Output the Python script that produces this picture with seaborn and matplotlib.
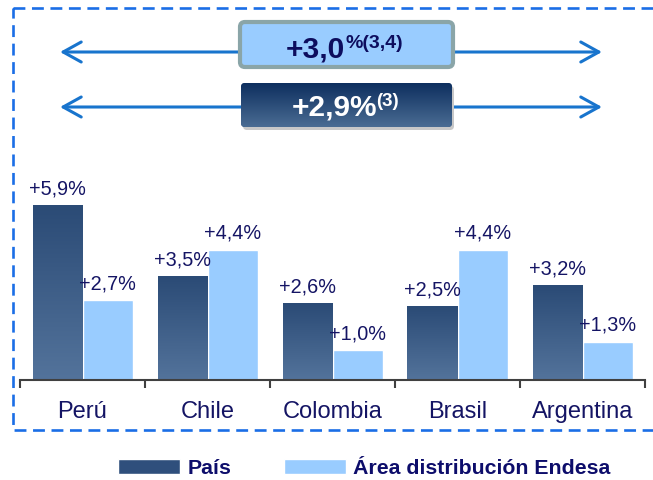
import numpy as np
import pandas as pd
import matplotlib
matplotlib.use("Agg")
import matplotlib.pyplot as plt
import seaborn as sns
from matplotlib.patches import FancyBboxPatch, Rectangle, Patch
from matplotlib.colors import LinearSegmentedColormap

# Data
paises = ['Perú', 'Chile', 'Colombia', 'Brasil', 'Argentina']
pais_vals = [5.9, 3.5, 2.6, 2.5, 3.2]
endesa_vals = [2.7, 4.4, 1.0, 4.4, 1.3]
series = ['País', 'Área distribución Endesa']
total_endesa = '+3,0'
total_endesa_note = '%(3,4)'
total_pais = '+2,9%'
total_pais_note = '(3)'

df = pd.DataFrame({
    'pais': paises * 2,
    'serie': [series[0]] * len(paises) + [series[1]] * len(paises),
    'valor': pais_vals + endesa_vals,
})

sns.set_theme(style='white')
plt.rcParams['font.family'] = ['Liberation Sans', 'DejaVu Sans']

navy = '#141464'
dark = '#36567f'
light = '#99ccff'
dark_cmap = LinearSegmentedColormap.from_list('dk', ['#2b4b76', '#53739b'])
box_cmap = LinearSegmentedColormap.from_list('bx', ['#0e2f5f', '#4a6c93'])

fig = plt.figure(figsize=(6.53, 4.80), dpi=100)
ax = fig.add_axes([20 / 653, 100 / 480, 625 / 653, 192.4 / 480])

sns.barplot(data=df, x='pais', y='valor', hue='serie', palette=[dark, light],
            width=0.8, saturation=1, ax=ax, legend=False)

# gradient on the dark bars
grad = np.linspace(0, 1, 100).reshape(-1, 1)
for bar in ax.containers[0]:
    x0, w, h = bar.get_x(), bar.get_width(), bar.get_height()
    im = ax.imshow(grad, extent=[x0, x0 + w, 0, h], origin='upper',
                   cmap=dark_cmap, aspect='auto', zorder=bar.get_zorder())
    im.set_clip_path(bar)

for cont, vals in zip(ax.containers, [pais_vals, endesa_vals]):
    labels = [('+%.1f%%' % v).replace('.', ',') for v in vals]
    ax.bar_label(cont, labels=labels, padding=5, fontsize=14.3, color=navy)

ax.set_xlim(-0.5, 4.5)
ax.set_ylim(0, 6.5)
ax.set_xlabel('')
ax.set_ylabel('')
ax.set_yticks([])
ax.set_xticks(range(len(paises)))
ax.set_xticklabels(paises, fontsize=17, color=navy)
ax.set_xticks(np.arange(-0.5, 5, 1), minor=True)
ax.tick_params(axis='x', which='major', length=0, pad=15)
ax.tick_params(axis='x', which='minor', length=6, width=1.5, color='#404040',
               direction='out', bottom=True)
for s in ['top', 'right', 'left']:
    ax.spines[s].set_visible(False)
ax.spines['bottom'].set_color('#404040')
ax.spines['bottom'].set_linewidth(1.5)
ax.patch.set_alpha(0)

# overlay in pixel coordinates for the frame, arrows and boxes
ov = fig.add_axes([0, 0, 1, 1], zorder=3)
ov.set_xlim(0, 653)
ov.set_ylim(480, 0)
ov.axis('off')
ov.patch.set_alpha(0)

ov.add_patch(Rectangle((13, 8), 700, 422, fill=False, ec='#1a6ee6', lw=1.9,
                       ls=(0, (4.5, 2.5))))

for yy in [52, 107]:
    ov.annotate('', xy=(60, yy), xytext=(602, yy),
                arrowprops=dict(arrowstyle='<->,head_length=0.65,head_width=0.36',
                                color='#1874cd', lw=2.2, mutation_scale=20,
                                shrinkA=0, shrinkB=0))

# top box
ov.add_patch(FancyBboxPatch((240, 22), 213, 45,
                            boxstyle='round,pad=0,rounding_size=5',
                            fc=light, ec='#8aa5a8', lw=3, zorder=4))
ov.text(345, 57, total_endesa, ha='right', va='baseline', fontsize=21.5,
        fontweight='bold', color='#0d0d5e', zorder=5)
ov.text(345, 48, total_endesa_note, ha='left', va='baseline', fontsize=14,
        fontweight='bold', color='#0d0d5e', zorder=5)

# bottom box with shadow and gradient
ov.add_patch(FancyBboxPatch((243, 86), 211, 44,
                            boxstyle='round,pad=0,rounding_size=4',
                            fc='#c8c8c8', ec='none', zorder=4))
bx = FancyBboxPatch((241, 83), 211, 44, boxstyle='round,pad=0,rounding_size=4',
                    fc='#2c4c78', ec='none', zorder=4)
ov.add_patch(bx)
im = ov.imshow(grad, extent=[241, 452, 127, 83], origin='upper', cmap=box_cmap,
               aspect='auto', zorder=4.5)
im.set_clip_path(bx)
ov.set_xlim(0, 653)
ov.set_ylim(480, 0)
ov.text(377, 115, total_pais, ha='right', va='baseline', fontsize=21.5,
        fontweight='bold', color='white', zorder=5)
ov.text(376, 106, total_pais_note, ha='left', va='baseline', fontsize=13.5,
        fontweight='bold', color='white', zorder=5)

handles = [Patch(facecolor='#2f4f7c'), Patch(facecolor=light)]
fig.legend(handles, series, loc='center', bbox_to_anchor=(0.558, 0.024),
           ncol=2, frameon=False, handlelength=2.9, handleheight=0.75,
           handletextpad=0.35, columnspacing=2.5, borderpad=0,
           prop={'weight': 'bold', 'size': 15.3}, labelcolor='#0d0d6b')

fig.savefig('out.png', dpi=100)
